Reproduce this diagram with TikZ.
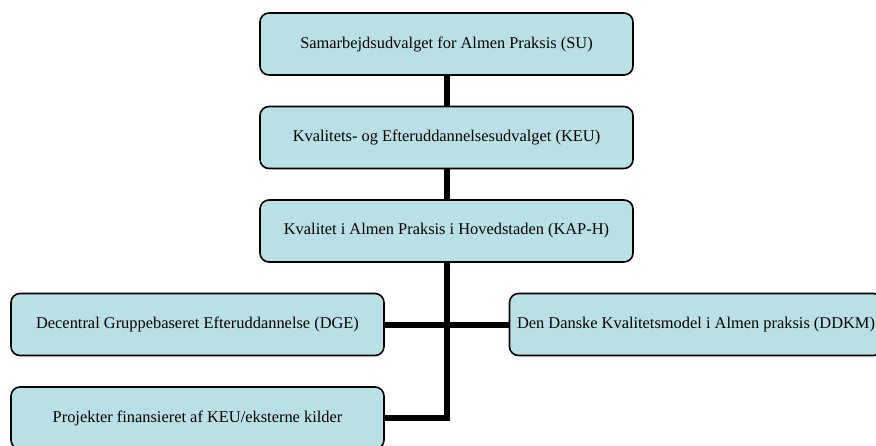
\documentclass[tikz,border=0pt]{standalone}
\usepackage{fontspec}
\setmainfont{Liberation Serif}
\definecolor{boxfill}{RGB}{185,224,228}
\begin{document}
\begin{tikzpicture}[x=1pt,y=-1pt,
  orgbox/.style={draw=black, line width=1.6pt, fill=boxfill, rounded corners=9pt,
    minimum width=373pt, minimum height=62pt, inner sep=0pt,
    font=\fontsize{16.4}{19}\selectfont},
  link/.style={line width=6pt, draw=black}]
\useasboundingbox (0,0) rectangle (876,445);
\clip (0,0) rectangle (876,445);
\node[orgbox] (su)   at (446.5,44)  {Samarbejdsudvalget for Almen Praksis (SU)};
\node[orgbox] (keu)  at (446.5,137.5) {Kvalitets- og Efteruddannelsesudvalget (KEU)};
\node[orgbox] (kap)  at (446.5,231) {Kvalitet i Almen Praksis i Hovedstaden (KAP-H)};
\node[orgbox] (dge)  at (197.5,324.5) {Decentral Gruppebaseret Efteruddannelse (DGE)};
\node[orgbox] (ddkm) at (696,324.5) {Den Danske Kvalitetsmodel i Almen praksis (DDKM)};
\node[orgbox] (proj) at (197.5,418) {Projekter finansieret af KEU/eksterne kilder};
\draw[link] (su.south) -- (keu.north);
\draw[link] (keu.south) -- (kap.north);
\draw[link] (dge.east) -- (ddkm.west);
\draw[link] (kap.south) -- (kap.south |- proj.east) -- (proj.east);
\end{tikzpicture}
\end{document}
